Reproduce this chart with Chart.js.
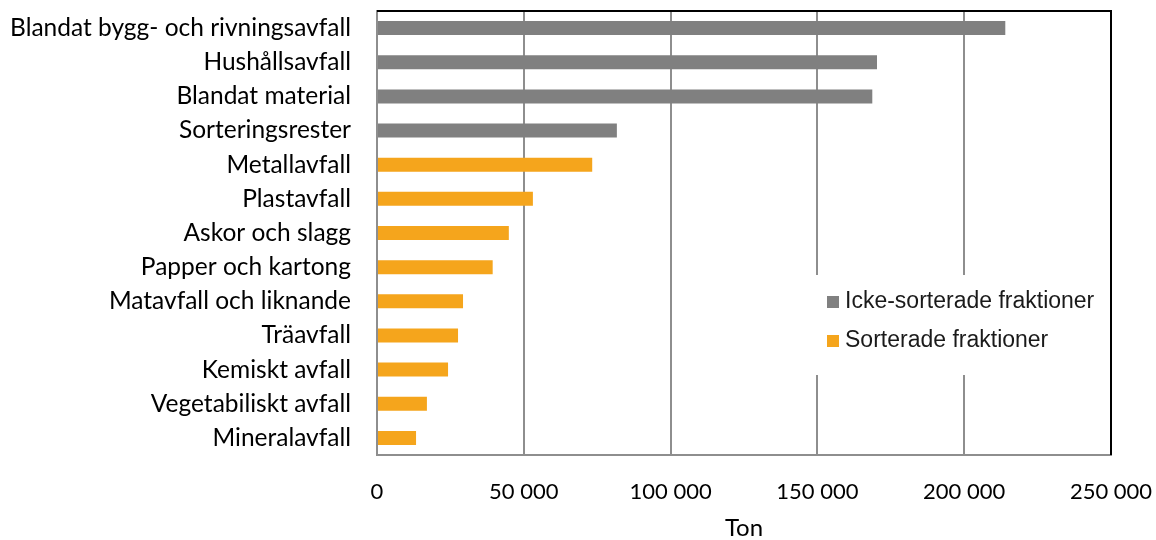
<!DOCTYPE html>
<html>
<head>
<meta charset="utf-8">
<script src="https://cdn.jsdelivr.net/npm/chart.js@4/dist/chart.umd.min.js"></script>
<style>
  html, body { margin: 0; padding: 0; background: #ffffff; }
  #wrap { width: 1156px; height: 540px; }
</style>
</head>
<body>
<div id="wrap"><canvas id="c" width="1156" height="540"></canvas></div>
<script>
// Waste fractions, amount in tonnes
const categories = [
  'Blandat bygg- och rivningsavfall',
  'Hushållsavfall',
  'Blandat material',
  'Sorteringsrester',
  'Metallavfall',
  'Plastavfall',
  'Askor och slagg',
  'Papper och kartong',
  'Matavfall och liknande',
  'Träavfall',
  'Kemiskt avfall',
  'Vegetabiliskt avfall',
  'Mineralavfall'
];
const seriesNames = ['Icke-sorterade fraktioner', 'Sorterade fraktioner'];
const ickeSorterade = [214000, 170300, 168700, 81700, null, null, null, null, null, null, null, null, null];
const sorterade = [null, null, null, null, 73300, 53100, 44900, 39400, 29300, 27600, 24200, 17000, 13300];
const xTickValues = [0, 50000, 100000, 150000, 200000, 250000];
const xTitle = 'Ton';

const GRAY = '#808080';
const ORANGE = '#F5A51C';
const GRID = '#8e8e8e';

const fmt = v => String(v).replace(/\B(?=(\d{3})+(?!\d))/g, ' ');

// Remove the automatic label overhang padding so the plot area is fixed
const noOverhang = scale => {
  scale.paddingLeft = 0;
  scale.paddingRight = 0;
  scale.paddingTop = 0;
  scale.paddingBottom = 0;
};

// Black frame on the top and right edges of the plot area
const framePlugin = {
  id: 'frame',
  afterDraw(chart) {
    const { ctx, chartArea: a } = chart;
    ctx.save();
    ctx.strokeStyle = '#000000';
    ctx.lineWidth = 2;
    ctx.beginPath();
    ctx.moveTo(a.left, a.top);
    ctx.lineTo(a.right, a.top);
    ctx.lineTo(a.right, a.bottom);
    ctx.stroke();
    ctx.restore();
  }
};

// Legend box placed inside the plot area
const insetLegend = {
  id: 'insetLegend',
  afterDraw(chart) {
    const { ctx, chartArea: a } = chart;
    const x0 = a.right - 299, y0 = a.top + 264;
    ctx.save();
    ctx.fillStyle = '#ffffff';
    ctx.fillRect(x0, y0, 297, 100);
    ctx.font = '23px "Liberation Sans", Arial, sans-serif';
    ctx.textBaseline = 'middle';
    chart.data.datasets.forEach((ds, i) => {
      const cy = y0 + 27 + i * 39;
      ctx.fillStyle = ds.backgroundColor;
      ctx.fillRect(x0 + 15, cy - 6, 12, 12);
      ctx.fillStyle = '#1a1a1a';
      ctx.fillText(ds.label, x0 + 33, cy);
    });
    ctx.restore();
  }
};

new Chart(document.getElementById('c'), {
  type: 'bar',
  data: {
    labels: categories,
    datasets: [
      { label: seriesNames[0], data: ickeSorterade, backgroundColor: GRAY },
      { label: seriesNames[1], data: sorterade, backgroundColor: ORANGE }
    ]
  },
  options: {
    indexAxis: 'y',
    responsive: false,
    animation: false,
    devicePixelRatio: 1,
    datasets: {
      bar: { grouped: false, barPercentage: 0.41, categoryPercentage: 1 }
    },
    layout: { padding: { top: 11, right: 45, left: 0, bottom: 0 } },
    plugins: { legend: { display: false }, tooltip: { enabled: false } },
    scales: {
      x: {
        min: 0,
        max: 250000,
        afterBuildTicks(scale) { scale.ticks = xTickValues.map(v => ({ value: v })); },
        afterFit(scale) { scale.height = 85; noOverhang(scale); },
        grid: { color: GRID, lineWidth: 2, drawTicks: false },
        border: { color: GRID, width: 2 },
        ticks: {
          padding: 24,
          color: '#000000',
          font: { family: 'Lato', size: 22 },
          maxRotation: 0,
          callback: v => fmt(v)
        },
        title: {
          display: true,
          text: xTitle,
          color: '#000000',
          font: { family: 'Lato', size: 24, lineHeight: 0.95 },
          padding: 0
        }
      },
      y: {
        afterFit(scale) { scale.width = 377; noOverhang(scale); },
        grid: { display: false, drawTicks: false },
        border: { color: GRID, width: 2 },
        ticks: {
          padding: 26,
          color: '#000000',
          font: { family: 'Lato', size: 24.5 }
        }
      }
    }
  },
  plugins: [framePlugin, insetLegend]
});
</script>
</body>
</html>
